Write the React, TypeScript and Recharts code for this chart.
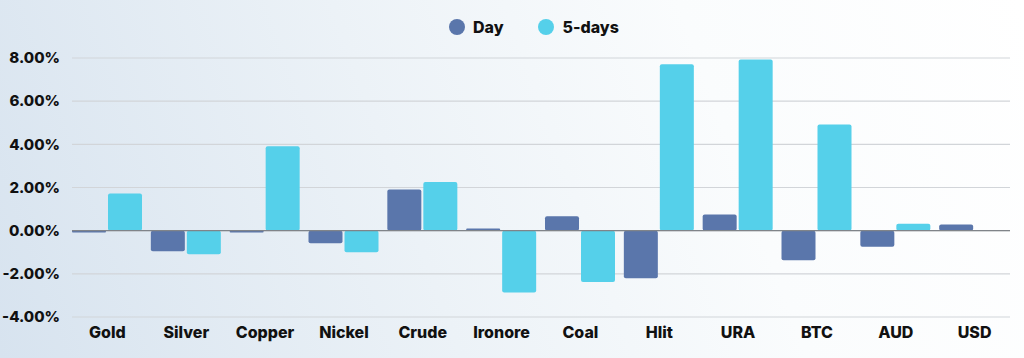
import React from "react";
import { BarChart, Bar, XAxis, YAxis, CartesianGrid, ReferenceLine } from "recharts";

const categories = ["Gold", "Silver", "Copper", "Nickel", "Crude", "Ironore", "Coal", "Hlit", "URA", "BTC", "AUD", "USD"];
const dayValues = [-0.08, -0.95, -0.08, -0.58, 1.91, 0.1, 0.67, -2.21, 0.75, -1.37, -0.75, 0.29];
const fiveDayValues = [1.72, -1.09, 3.91, -1.0, 2.26, -2.86, -2.38, 7.71, 7.93, 4.92, 0.32, -0.01];
const yTicks = [-4, -2, 0, 2, 4, 6, 8];

const DAY_COLOR = "#5a76ab";
const FIVE_COLOR = "#55d0ea";
const FONT = "Inter, 'Open Sans', sans-serif";

const data = categories.map((name, i) => ({ name, day: dayValues[i], five: fiveDayValues[i] }));

export default function App() {
  return (
    <div
      style={{
        position: "absolute",
        left: 0,
        top: 0,
        width: 1024,
        height: 358,
        background: "linear-gradient(70deg, #d7e3ef 0%, #ecf2f7 40%, #fafcfd 70%, #ffffff 100%)",
        fontFamily: FONT,
      }}
    >
      <div
        style={{
          position: "absolute",
          top: 17,
          left: 449,
          display: "flex",
          alignItems: "center",
          fontWeight: 800,
          fontSize: 16,
          color: "#111",
          lineHeight: "20px",
        }}
      >
        <span style={{ display: "inline-block", width: 16, height: 16, borderRadius: "50%", background: DAY_COLOR, marginRight: 8 }} />
        <span style={{ marginRight: 34 }}>Day</span>
        <span style={{ display: "inline-block", width: 16, height: 16, borderRadius: "50%", background: FIVE_COLOR, marginRight: 9 }} />
        <span>5-days</span>
      </div>
      <BarChart
        width={1024}
        height={358}
        data={data}
        margin={{ top: 58, right: 14, bottom: 11, left: 0 }}
        barGap={2}
        barCategoryGap={4}
      >
        <CartesianGrid vertical={false} stroke="#d2d5d9" strokeWidth={1.2} />
        <XAxis
          dataKey="name"
          axisLine={false}
          tickLine={false}
          tickSize={0}
          tickMargin={10}
          height={30}
          interval={0}
          padding={{ left: -4, right: -4 }}
          tick={{ fill: "#111", fontSize: 16, fontWeight: 800, fontFamily: FONT }}
        />
        <YAxis
          domain={[-4, 8]}
          ticks={yTicks}
          width={72}
          axisLine={false}
          tickLine={false}
          tickSize={0}
          tickMargin={12}
          tickFormatter={(v: number) => `${v.toFixed(2)}%`}
          tick={{ fill: "#111", fontSize: 15, fontWeight: 800, fontFamily: FONT }}
        />
        <ReferenceLine y={0} stroke="#808489" strokeWidth={1.2} />
        <Bar dataKey="day" fill={DAY_COLOR} radius={2} isAnimationActive={false} />
        <Bar dataKey="five" fill={FIVE_COLOR} radius={2} isAnimationActive={false} />
      </BarChart>
    </div>
  );
}
